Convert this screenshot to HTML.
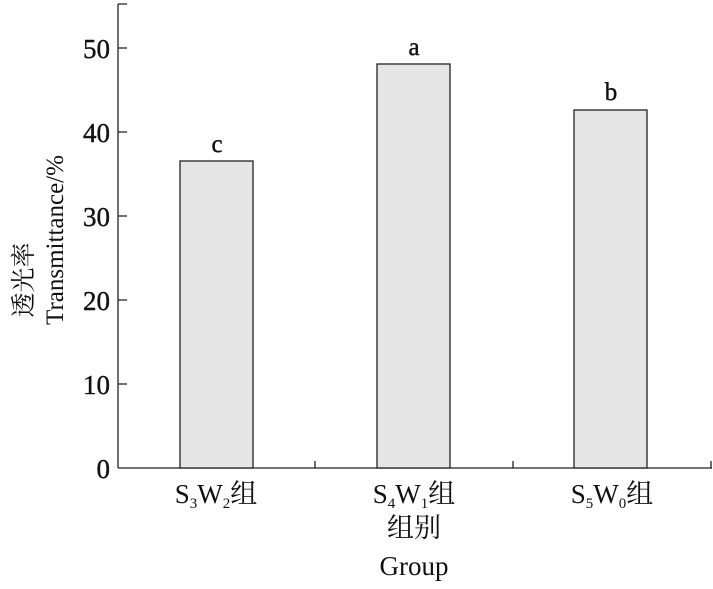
<!DOCTYPE html>
<html><head><meta charset="utf-8"><style>
html,body{margin:0;padding:0;background:#fff;}
text{font-family:"Liberation Serif","Noto Serif CJK SC",serif;fill:#111;}
</style></head><body>
<svg width="713" height="584" xmlns="http://www.w3.org/2000/svg">
<g stroke="#222" stroke-width="1.3" fill="none">
<line x1="118" y1="4" x2="118" y2="468"/>
<line x1="118" y1="468" x2="712" y2="468"/>
<line x1="118" y1="4" x2="127" y2="4"/>
<line x1="118" y1="48" x2="127" y2="48"/>
<line x1="118" y1="132" x2="127" y2="132"/>
<line x1="118" y1="216" x2="127" y2="216"/>
<line x1="118" y1="300" x2="127" y2="300"/>
<line x1="118" y1="384" x2="127" y2="384"/>
<line x1="315" y1="468" x2="315" y2="461"/>
<line x1="513" y1="468" x2="513" y2="461"/>
<line x1="711" y1="468" x2="711" y2="461"/>
</g>
<g fill="#e6e6e6" stroke="#222" stroke-width="1.3">
<rect x="180" y="161" width="73" height="307"/>
<rect x="377" y="64" width="73" height="404"/>
<rect x="574" y="110" width="73" height="358"/>
</g>
<g font-size="27" text-anchor="end" stroke="#111" stroke-width="0.4">
<text x="110" y="58">50</text>
<text x="110" y="142">40</text>
<text x="110" y="226">30</text>
<text x="110" y="310">20</text>
<text x="110" y="394">10</text>
<text x="110" y="478">0</text>
</g>
<g font-size="25" text-anchor="middle" stroke="#111" stroke-width="0.4">
<text x="217" y="152">c</text>
<text x="414" y="55">a</text>
<text x="611" y="100">b</text>
</g>
<g font-size="27" text-anchor="middle">
<text x="216" y="503">S<tspan font-size="15" dy="5">3</tspan><tspan dy="-5">W</tspan><tspan font-size="15" dy="5">2</tspan><tspan dy="-5">组</tspan></text>
<text x="414" y="503">S<tspan font-size="15" dy="5">4</tspan><tspan dy="-5">W</tspan><tspan font-size="15" dy="5">1</tspan><tspan dy="-5">组</tspan></text>
<text x="612" y="503">S<tspan font-size="15" dy="5">5</tspan><tspan dy="-5">W</tspan><tspan font-size="15" dy="5">0</tspan><tspan dy="-5">组</tspan></text>
<text x="414" y="537">组别</text>
<text x="414" y="575">Group</text>
</g>
<g font-size="25" text-anchor="middle">
<text transform="translate(32,280) rotate(-90)">透光率</text>
<text transform="translate(63,240) rotate(-90)">Transmittance/%</text>
</g>
</svg>
</body></html>
